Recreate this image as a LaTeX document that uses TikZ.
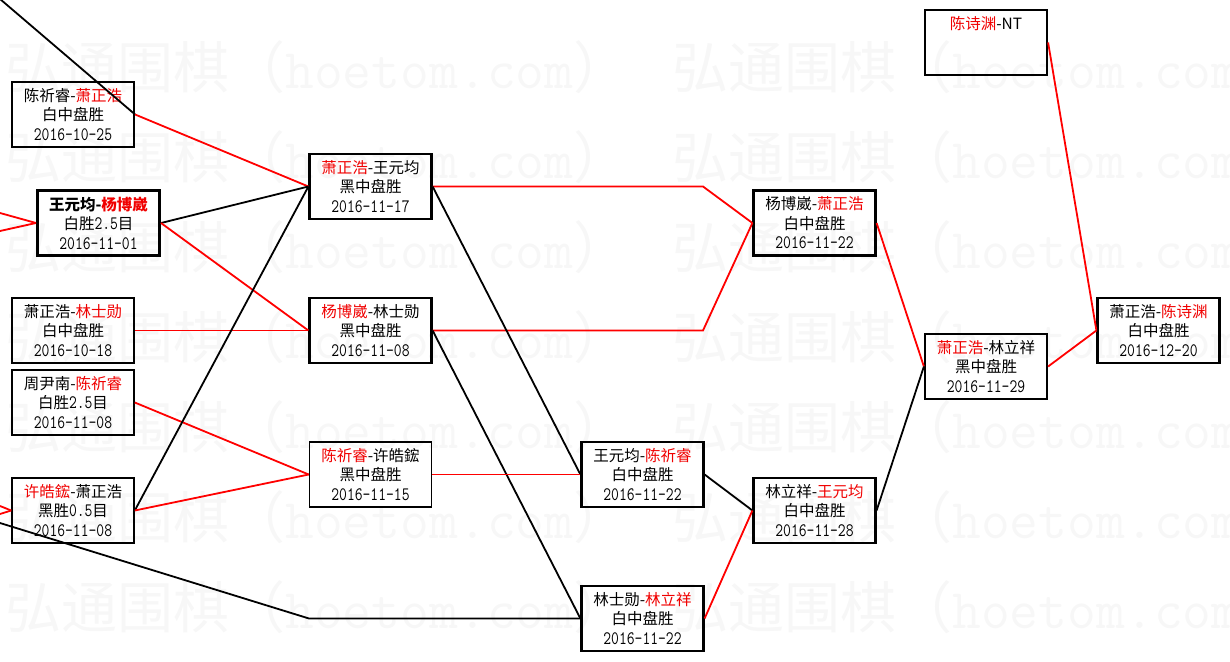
\documentclass[tikz,border=0pt]{standalone}
\usepackage{fontspec}
\setmainfont{Noto Sans CJK SC}
\newfontfamily\cjk{Noto Sans CJK SC}[AutoFakeBold=2]
\newfontfamily\dtfont{Latin Modern Mono}[FakeStretch=0.8]
\definecolor{wred}{RGB}{240,0,0}
\definecolor{wmark}{RGB}{247,247,247}
\newcommand\Rn[1]{\textcolor{wred}{#1}}
\newcommand\Dt[1]{{\dtfont\fontsize{19}{19}\selectfont #1}}
\tikzset{
  game/.style={draw=black, line width=2.2pt, minimum width=122pt, minimum height=65pt,
    inner sep=0pt, align=center, font=\fontsize{15.5}{19.5}\selectfont},
  gamethin/.style={game, line width=1.6pt},
  gamehi/.style={game, line width=3pt},
  redline/.style={draw=red, line width=1.8pt},
  blackline/.style={draw=black, line width=1.8pt},
  wmtext/.style={anchor=west, inner sep=0pt, text=wmark, font=\fontsize{56}{60}\selectfont}
}
\begin{document}
\begin{tikzpicture}[x=1pt, y=-1pt]
\useasboundingbox (0,0) rectangle (1230,661);
\clip (0,0) rectangle (1230,661);
% watermark
\foreach \yy [count=\i] in {67,157,247,337,427,517,607}{
  \node[wmtext] (wma\i) at (5,\yy) {弘通围棋（\texttt{hoetom.com}）};
  \node[wmtext] (wmb\i) at (672,\yy) {弘通围棋（\texttt{hoetom.com}）};
}
% games
\node[game] (A) at (73,114.5) {陈祈睿-\Rn{萧正浩}\\白中盘胜\\\Dt{2016-10-25}};
\node[gamehi] (B) at (98.5,223) {{\bfseries 王元均-\Rn{杨博崴}}\\白胜\Dt{2.5}目\\\Dt{2016-11-01}};
\node[game] (C) at (370.5,186.5) {\Rn{萧正浩}-王元均\\黑中盘胜\\\Dt{2016-11-17}};
\node[game] (D) at (73,330.5) {萧正浩-\Rn{林士勋}\\白中盘胜\\\Dt{2016-10-18}};
\node[gamethin] (E) at (73,402.5) {周尹南-\Rn{陈祈睿}\\白胜\Dt{2.5}目\\\Dt{2016-11-08}};
\node[gamethin] (F) at (73,510.5) {\Rn{许皓鋐}-萧正浩\\黑胜\Dt{0.5}目\\\Dt{2016-11-08}};
\node[game] (G) at (370.5,330.5) {\Rn{杨博崴}-林士勋\\黑中盘胜\\\Dt{2016-11-08}};
\node[gamethin] (H) at (370.5,474.5) {\Rn{陈祈睿}-许皓鋐\\黑中盘胜\\\Dt{2016-11-15}};
\node[game] (I) at (814.5,223) {杨博崴-\Rn{萧正浩}\\白中盘胜\\\Dt{2016-11-22}};
\node[game] (J) at (642.5,474.5) {王元均-\Rn{陈祈睿}\\白中盘胜\\\Dt{2016-11-22}};
\node[game] (K) at (642.5,618.5) {林士勋-\Rn{林立祥}\\白中盘胜\\\Dt{2016-11-22}};
\node[game] (L) at (814.5,510.5) {林立祥-\Rn{王元均}\\白中盘胜\\\Dt{2016-11-28}};
\node[game] (M) at (986,366.5) {\Rn{萧正浩}-林立祥\\黑中盘胜\\\Dt{2016-11-29}};
\node[game] (N) at (1158.5,330.5) {萧正浩-\Rn{陈诗渊}\\白中盘胜\\\Dt{2016-12-20}};
\node[game] (O) at (986,42.5) {\Rn{陈诗渊}-NT\\\mbox{}\\\mbox{}};
% free ends and bends
\coordinate (tl) at (0,-1);
\coordinate (bl1) at (0,213);
\coordinate (bl2) at (0,231);
\coordinate (fl1) at (0,506);
\coordinate (fl2) at (0,514);
\coordinate (fl3) at (0,523);
\coordinate (kb) at (309,618.5);
\coordinate (c1) at (703,186.5);
\coordinate (c2) at (703,330.5);
% connectors
\draw[blackline] (tl) -- (A.east);
\draw[redline] (A.east) -- (C.west);
\draw[redline] (bl1) -- (B.west);
\draw[redline] (bl2) -- (B.west);
\draw[blackline] (B.east) -- (C.west);
\draw[redline] (B.east) -- (G.west);
\draw[redline] (D.east) -- (G.west);
\draw[redline] (E.east) -- (H.west);
\draw[redline] (fl1) -- (F.west);
\draw[redline] (fl2) -- (F.west);
\draw[blackline] (F.east) -- (C.west);
\draw[redline] (F.east) -- (H.west);
\draw[blackline] (fl3) -- (kb) -- (K.west);
\draw[redline] (C.east) -- (c1) -- (I.west);
\draw[redline] (G.east) -- (c2) -- (I.west);
\draw[blackline] (C.east) -- (J.west);
\draw[blackline] (G.east) -- (K.west);
\draw[redline] (H.east) -- (J.west);
\draw[blackline] (J.east) -- (L.west);
\draw[redline] (K.east) -- (L.west);
\draw[redline] (I.east) -- (M.west);
\draw[blackline] (L.east) -- (M.west);
\draw[redline] (M.east) -- (N.west);
\draw[redline] (O.east) -- (N.west);
\end{tikzpicture}
\end{document}
